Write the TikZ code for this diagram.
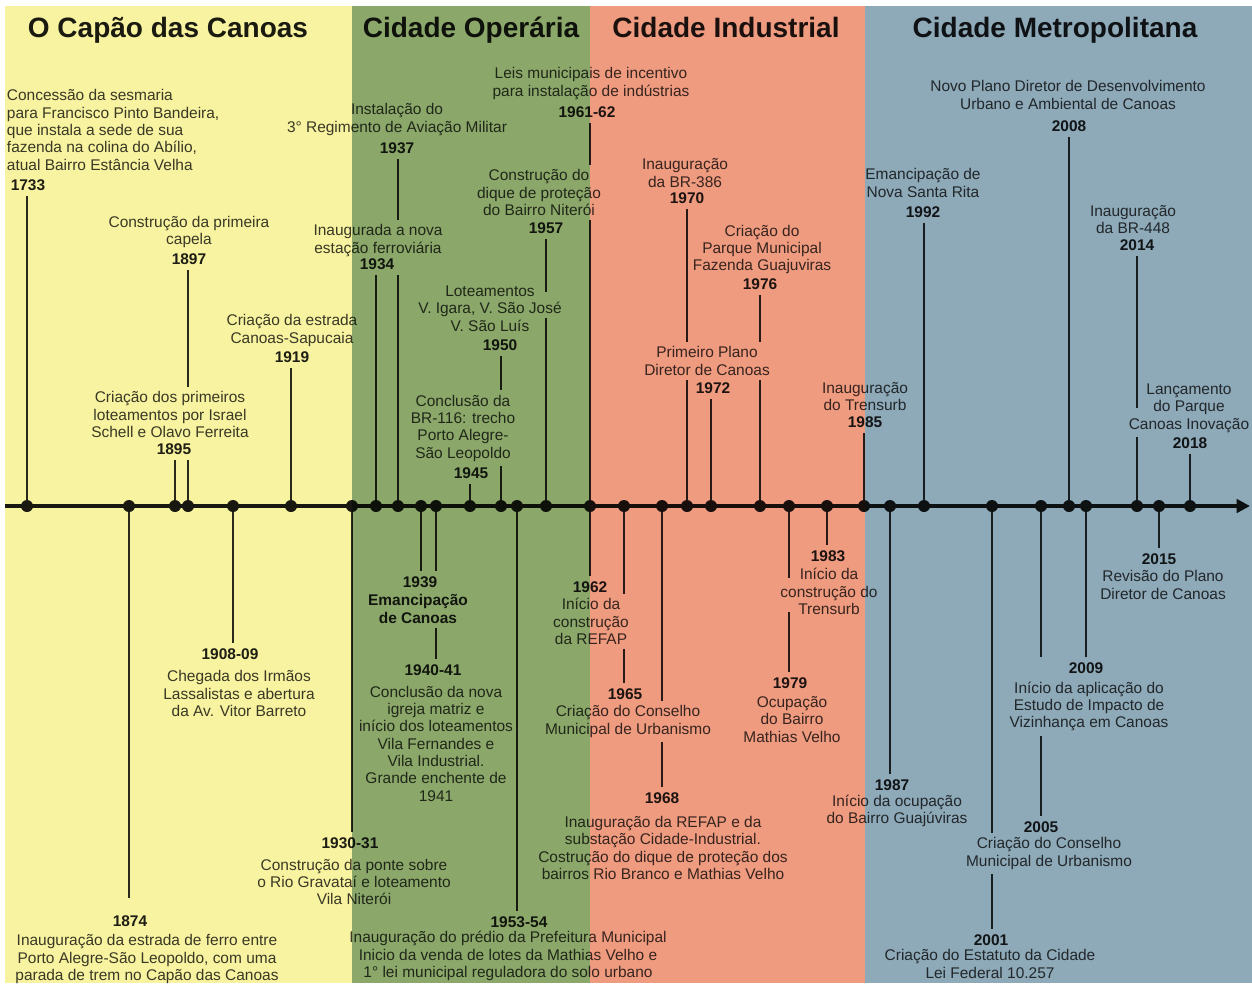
\documentclass[tikz,border=0pt]{standalone}
\usepackage{fontspec}
\setmainfont{Liberation Sans}
\usetikzlibrary{arrows.meta}
\definecolor{bandY}{HTML}{F8F3A0}
\definecolor{bandG}{HTML}{8BA86A}
\definecolor{bandR}{HTML}{EF9B80}
\definecolor{bandB}{HTML}{8EA9B8}
\definecolor{bodytxt}{HTML}{3C3C3C}
\definecolor{yeartxt}{HTML}{202020}
\definecolor{titletxt}{HTML}{1C1C1C}
\definecolor{stemcol}{HTML}{2C2C2C}
\definecolor{axiscol}{HTML}{1A1A1A}
\pgfdeclarelayer{bglayer}
\pgfdeclarelayer{fglayer}
\pgfsetlayers{bglayer,main,fglayer}
\begin{document}
\begin{tikzpicture}[x=0.75pt,y=-0.75pt,
  body/.style={font=\fontsize{11.6}{13}\selectfont, text=bodytxt, align=center, inner sep=0pt, outer sep=3.5pt},
  bodyb/.style={body, font=\bfseries\fontsize{11.6}{13}\selectfont, text=yeartxt},
  yr/.style={font=\bfseries\fontsize{11.6}{13}\selectfont, text=yeartxt, inner sep=0pt, outer sep=4.5pt},
  ttl/.style={font=\bfseries\fontsize{21}{24}\selectfont, text=titletxt, inner sep=0pt, anchor=base},
  dot/.style={circle, fill=axiscol, minimum size=9pt, inner sep=0pt},
  stem/.style={draw=stemcol, line width=1.5pt},
  axisline/.style={draw=axiscol, line width=2.6pt, -{Triangle[length=10pt,width=10pt]}}]
\useasboundingbox (0,0) rectangle (1252,983);
\clip (0,0) rectangle (1252,983);
\begin{pgfonlayer}{bglayer}
  \fill[white] (0,0) rectangle (1252,983);
\end{pgfonlayer}

% titles
\node[ttl] (h1) at (168,37) {O Capão das Canoas};
\node[ttl] (h2) at (471,37) {Cidade Operária};
\node[ttl] (h3) at (726,37) {Cidade Industrial};
\node[ttl] (h4) at (1055,37) {Cidade Metropolitana};

% dots on the axis
\foreach \n/\x in {1733/27,1874/129,1895/175,1897/188,1908/233,1919/291,1930/352,
  1934/376,1937/398,1939/421,1940/436,1945/470,1950/501,1953/517,1957/546,1961/590,
  1965/624,1968/662,1970/687,1972/711,1976/760,1979/789,1983/827,1985/864,
  1987/890,1992/924,2001/992,2005/1041,2008/1069,2009/1086,2014/1137,2015/1159,2018/1190}
  \node[dot] (d\n) at (\x,506) {};
\coordinate (axstart) at (5,506);
\coordinate (axend) at (1250,506);

% ---------- events above the axis ----------
\node[body, align=left, anchor=west] (t1733) at (2.3,130) {Concessão da sesmaria\\para Francisco Pinto Bandeira,\\que instala a sede de sua\\fazenda na colina do Abílio,\\atual Bairro Estância Velha};
\node[yr] (y1733) at (28,185) {1733};
\node[body] (t1897) at (189,232) {Construção da primeira\\capela};
\node[yr] (y1897) at (189,259) {1897};
\node[body] (t1895) at (170,414.5) {Criação dos primeiros\\loteamentos por Israel\\Schell e Olavo Ferreita};
\node[yr] (y1895) at (174,449) {1895};
\node[body] (t1919) at (292,330.5) {Criação da estrada\\Canoas-Sapucaia};
\node[yr] (y1919) at (292,357) {1919};
\node[body] (t1937) at (397,119.5) {Instalação do\\3° Regimento de Aviação Militar};
\node[yr] (y1937) at (397,148) {1937};
\node[body] (t1934) at (378,240.5) {Inaugurada a nova\\estação ferroviária};
\node[yr] (y1934) at (377,264) {1934};
\node[body] (t1945) at (463,428) {Conclusão da\\BR-116: trecho\\Porto Alegre-\\São Leopoldo};
\node[yr] (y1945) at (471,473) {1945};
\node[body] (t1950) at (490,308.5) {Loteamentos\\V. Igara, V. São José\\V. São Luís};
\node[yr] (y1950) at (500,345) {1950};
\node[body] (t1957) at (539,192.5) {Construção do\\dique de proteção\\do Bairro Niterói};
\node[yr] (y1957) at (546,228) {1957};
\node[body] (t1961) at (591,83.5) {Leis municipais de incentivo\\para instalação de indústrias};
\node[yr] (y1961) at (587,112) {1961-62};
\node[body] (t1970) at (685,173) {Inauguração\\da BR-386};
\node[yr] (y1970) at (687,198) {1970};
\node[body] (t1976) at (762,249.5) {Criação do\\Parque Municipal\\Fazenda Guajuviras};
\node[yr] (y1976) at (760,284) {1976};
\node[body] (t1972) at (707,361) {Primeiro Plano\\Diretor de Canoas};
\node[yr] (y1972) at (713,388) {1972};
\node[body] (t1985) at (865,396.5) {Inauguração\\do Trensurb};
\node[yr] (y1985) at (865,422) {1985};
\node[body] (t1992) at (923,183) {Emancipação de\\Nova Santa Rita};
\node[yr] (y1992) at (923,212) {1992};
\node[body] (t2008) at (1068,95) {Novo Plano Diretor de Desenvolvimento\\Urbano e Ambiental de Canoas};
\node[yr] (y2008) at (1069,126) {2008};
\node[body] (t2014) at (1133,219.5) {Inauguração\\da BR-448};
\node[yr] (y2014) at (1137,245) {2014};
\node[body] (t2018) at (1189,408) {Lançamento\\do Parque\\Canoas Inovação};
\node[yr] (y2018) at (1190,443) {2018};

% ---------- events below the axis ----------
\node[yr] (y1874) at (130,921) {1874};
\node[body] (t1874) at (147,959) {Inauguração da estrada de ferro entre\\Porto Alegre-São Leopoldo, com uma\\parada de trem no Capão das Canoas};
\node[yr] (y1908) at (230,654) {1908-09};
\node[body] (t1908) at (239,693.5) {Chegada dos Irmãos\\Lassalistas e abertura\\da Av. Vitor Barreto};
\node[yr] (y1930) at (350,843) {1930-31};
\node[body] (t1930) at (354,882) {Construção da ponte sobre\\o Rio Gravataí e loteamento\\Vila Niterói};
\node[yr] (y1939) at (420,582) {1939};
\node[bodyb] (t1939) at (418,609) {Emancipação\\de Canoas};
\node[yr] (y1940) at (433,670) {1940-41};
\node[body] (t1940) at (436,743.5) {Conclusão da nova\\igreja matriz e\\início dos loteamentos\\Vila Fernandes e\\Vila Industrial.\\Grande enchente de\\1941};
\node[yr] (y1953) at (519,922) {1953-54};
\node[body] (t1953) at (508,956) {Inauguração do prédio da Prefeitura Municipal\\Inicio da venda de lotes da Mathias Velho e\\1° lei municipal reguladora do solo urbano};
\node[yr] (y1962) at (590,587) {1962};
\node[body] (t1962) at (591,621.5) {Início da\\construção\\da REFAP};
\node[yr] (y1965) at (625,694) {1965};
\node[body] (t1965) at (628,721.5) {Criação do Conselho\\Municipal de Urbanismo};
\node[yr] (y1968) at (662,798) {1968};
\node[body] (t1968) at (663,848) {Inauguração da REFAP e da\\substação Cidade-Industrial.\\Costrução do dique de proteção dos\\bairros Rio Branco e Mathias Velho};
\node[yr] (y1979) at (790,683) {1979};
\node[body] (t1979) at (792,719.5) {Ocupação\\do Bairro\\Mathias Velho};
\node[yr] (y1983) at (828,556) {1983};
\node[body] (t1983) at (829,591.5) {Início da\\construção do\\Trensurb};
\node[yr] (y1987) at (892,785) {1987};
\node[body] (t1987) at (897,811) {Início da ocupação\\do Bairro Guajúviras};
\node[yr] (y2001) at (991,940) {2001};
\node[body] (t2001) at (990,964) {Criação do Estatuto da Cidade\\Lei Federal 10.257};
\node[yr] (y2005) at (1041,827) {2005};
\node[body] (t2005) at (1049,853.5) {Criação do Conselho\\Municipal de Urbanismo};
\node[yr] (y2009) at (1086,668) {2009};
\node[body] (t2009) at (1089,706.5) {Início da aplicação do\\Estudo de Impacto de\\Vizinhança em Canoas};
\node[yr] (y2015) at (1159,559) {2015};
\node[body] (t2015) at (1163,585) {Revisão do Plano\\Diretor de Canoas};

% gap coordinates for interrupted stems
\coordinate (g1957a) at (546,292);
\coordinate (g1957b) at (546,318);
\coordinate (g2014) at (1137,408);
\coordinate (g1979a) at (789,578);
\coordinate (g1979b) at (789,612);
\coordinate (g1874) at (129,898);

\begin{pgfonlayer}{bglayer}
  % simple stems above
  \foreach \n in {1733,1895,1919,1934,1945,1972,1985,1992,2008,2018}
    \draw[stem] (d\n.center) -- (d\n |- y\n.south);
  % simple stems below
  \foreach \n in {1908,1930,1939,1953,1983,1987,2009,2015}
    \draw[stem] (d\n.center) -- (d\n |- y\n.north);
  \draw[stem] (d1874.center) -- (g1874);
  \draw[stem] (d1961.center) -- (d1961 |- y1962.north);
  % interrupted stems above
  \draw[stem] (d1897 |- y1897.south) -- (d1897 |- t1895.north);
  \draw[stem] (d1897 |- y1895.south) -- (d1897.center);
  \draw[stem] (d1937 |- y1937.south) -- (d1937 |- t1934.north);
  \draw[stem] (d1937 |- y1934.south) -- (d1937.center);
  \draw[stem] (d1950 |- y1950.south) -- (d1950 |- t1945.north);
  \draw[stem] (d1950 |- t1945.south) -- (d1950.center);
  \draw[stem] (d1957 |- y1957.south) -- (g1957a);
  \draw[stem] (g1957b) -- (d1957.center);
  \draw[stem] (d1961 |- y1961.south) -- (d1961 |- t1957.north);
  \draw[stem] (d1961 |- t1957.south) -- (d1961.center);
  \draw[stem] (d1970 |- y1970.south) -- (d1970 |- t1972.north);
  \draw[stem] (d1970 |- t1972.south) -- (d1970.center);
  \draw[stem] (d1976 |- y1976.south) -- (d1976 |- t1972.north);
  \draw[stem] (d1976 |- t1972.south) -- (d1976.center);
  \draw[stem] (d2014 |- y2014.south) -- (g2014);
  \draw[stem] (d2014 |- t2018.south) -- (d2014.center);
  % interrupted stems below
  \draw[stem] (d1940.center) -- (d1940 |- y1939.north);
  \draw[stem] (d1940 |- t1939.south) -- (d1940 |- y1940.north);
  \draw[stem] (d1965.center) -- (d1965 |- t1962.north);
  \draw[stem] (d1965 |- t1962.south) -- (d1965 |- y1965.north);
  \draw[stem] (d1968.center) -- (d1968 |- t1965.north);
  \draw[stem] (d1968 |- t1965.south) -- (d1968 |- y1968.north);
  \draw[stem] (d1979.center) -- (g1979a);
  \draw[stem] (g1979b) -- (d1979 |- y1979.north);
  \draw[stem] (d2001.center) -- (d2001 |- t2005.north);
  \draw[stem] (d2001 |- t2005.south) -- (d2001 |- y2001.north);
  \draw[stem] (d2005.center) -- (d2005 |- y2009.north);
  \draw[stem] (d2005 |- t2009.south) -- (d2005 |- y2005.north);
  % axis
  \draw[axisline] (axstart) -- (axend);
\end{pgfonlayer}

% period bands, multiplied over the drawing
\begin{pgfonlayer}{fglayer}
  \begin{scope}[blend mode=multiply]
    \fill[bandY] (5,6) rectangle (352,983);
    \fill[bandG] (352,6) rectangle (590,983);
    \fill[bandR] (590,6) rectangle (865,983);
    \fill[bandB] (865,6) rectangle (1252,983);
  \end{scope}
\end{pgfonlayer}
\end{tikzpicture}
\end{document}
